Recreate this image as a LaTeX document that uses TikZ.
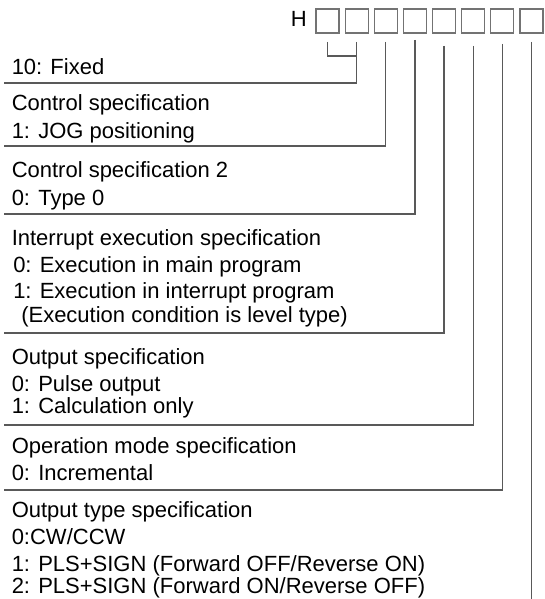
\documentclass[tikz,border=0pt]{standalone}
\usepackage{fontspec}
\setmainfont{Liberation Sans}
\usetikzlibrary{positioning}

\begin{document}
\begin{tikzpicture}[
      x=0.75pt, y=-0.75pt,
      every node/.style={font=\fontsize{16.5}{19.8}\selectfont},
      txt/.style={anchor=base west, inner sep=0pt},
      digitbox/.style={
        rectangle, draw=black!55, line width=0.8pt, inner sep=0pt,
        minimum width=17.25pt, minimum height=18pt
      },
      rule/.style={draw=black!65, line width=1pt}
    ]
    \useasboundingbox (0,0) rectangle (545,599);

    % ===== Top: H and the eight digit boxes =====
    \node[txt, anchor=base east] (hlet) at (307,27) {H};
    \foreach \i in {1,...,8}
      \node[digitbox] (d\i) at ({327.5+29.14*(\i-1)},21) {};

    % ===== Texts of each field =====
    \node[txt] (fix) at (11.5,75) {10: Fixed};

    \node[txt] (ctl) at (11.5,111) {Control specification};
    \node[txt] (ctl1) at (11.5,138) {1: JOG positioning};

    \node[txt] (ctltwo) at (11.5,177) {Control specification 2};
    \node[txt] (ctltwo0) at (11.5,205) {0: Type 0};

    \node[txt] (intr) at (11.5,245) {Interrupt execution specification};
    \node[txt] (intr0) at (13,272) {0: Execution in main program};
    \node[txt] (intr1) at (13,298) {1: Execution in interrupt program};
    \node[txt] (intr1b) at (21,322) {(Execution condition is level type)};

    \node[txt] (outs) at (11.5,364) {Output specification};
    \node[txt] (outs0) at (11.5,391) {0: Pulse output};
    \node[txt] (outs1) at (11.5,413) {1: Calculation only};

    \node[txt] (opm) at (11.5,453) {Operation mode specification};
    \node[txt] (opm0) at (11.5,480) {0: Incremental};

    \node[txt] (otyp) at (11.5,517) {Output type specification};
    \node[txt] (otyp0) at (11.5,544) {0:CW/CCW};
    \node[txt] (otyp1) at (11.5,571) {1: PLS+SIGN (Forward OFF/Reverse ON)};
    \node[txt] (otyp2) at (11.5,593) {2: PLS+SIGN (Forward ON/Reverse OFF)};

    % ===== Left ends of the rules under each field =====
    \coordinate (r1) at (4,83);
    \coordinate (r2) at (4,146);
    \coordinate (r3) at (4,214);
    \coordinate (r4) at (4,333);
    \coordinate (r5) at (4,425);
    \coordinate (r6) at (4,490);
    \coordinate (r7) at (0,599);

    % ===== Leader lines from the boxes =====
    \draw[rule] (d1.south |- 0,42) |- (d2.south |- 0,56);
    \draw[rule] (d2.south |- 0,42) |- (r1);
    \draw[rule] (d3.south |- 0,42) |- (r2);
    \draw[rule] (d4.south |- 0,40) |- (r3);
    \draw[rule] (d5.south |- 0,46) |- (r4);
    \draw[rule] (d6.south |- 0,46) |- (r5);
    \draw[rule] (d7.south |- 0,44) |- (r6);
    \draw[rule] (d8.south |- 0,42) -- (d8.south |- r7);
  \end{tikzpicture}
\end{document}
